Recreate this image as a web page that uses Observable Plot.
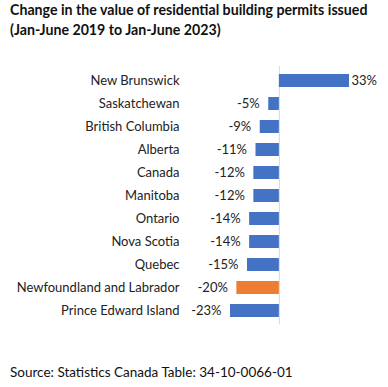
<!DOCTYPE html>
<html>
<head>
<meta charset="utf-8">
<script src="https://cdn.jsdelivr.net/npm/d3@7"></script>
<script src="https://cdn.jsdelivr.net/npm/@observablehq/plot@0.6"></script>
<style>
  html, body { margin: 0; padding: 0; background: #fff; }
  body { width: 388px; height: 387px; position: relative; overflow: hidden; font-family: Lato, sans-serif; }
  #title { position: absolute; left: 10px; top: 0px; font-weight: bold; font-size: 14.2px; line-height: 20px; color: #111; white-space: nowrap; }
  #chart { position: absolute; left: 0; top: 45px; }
  #source { position: absolute; left: 10px; top: 363px; font-size: 13.5px; line-height: 18px; color: #111; }
</style>
</head>
<body>
<div id="title">Change in the value of residential building permits issued<br>(Jan-June 2019 to Jan-June 2023)</div>
<div id="chart"></div>
<div id="source">Source: Statistics Canada Table: 34-10-0066-01</div>
<script>
const regions = ["New Brunswick", "Saskatchewan", "British Columbia", "Alberta", "Canada", "Manitoba", "Ontario", "Nova Scotia", "Quebec", "Newfoundland and Labrador", "Prince Edward Island"];
const changes = [33, -5, -9, -11, -12, -12, -14, -14, -15, -20, -23];
const highlight = "Newfoundland and Labrador";

const data = regions.map((r, i) => ({region: r, value: changes[i]}));

const chart = Plot.plot({
  width: 388,
  height: 285,
  marginLeft: 230,
  marginRight: 39,
  marginTop: 21,
  marginBottom: 5.5,
  style: {fontFamily: "Lato, sans-serif", fontSize: "13px", color: "#222", background: "#fff"},
  x: {domain: [-23, 33], axis: null},
  y: {domain: regions, paddingInner: 0.45, paddingOuter: 0.225, label: null},
  marks: [
    Plot.ruleX([0], {stroke: "#d9d9d9", strokeWidth: 1}),
    Plot.barX(data, {
      x: "value",
      y: "region",
      fill: d => d.region === highlight ? "#ED7D31" : "#4472C4"
    }),
    Plot.text(data.filter(d => d.value >= 0), {
      x: "value", y: "region", text: d => `${d.value}%`,
      textAnchor: "start", dx: 2, fill: "#222"
    }),
    Plot.text(data.filter(d => d.value < 0), {
      x: "value", y: "region", text: d => `${d.value}%`,
      textAnchor: "end", dx: -9, fill: "#222"
    }),
    Plot.axisY({tickSize: 0, tickPadding: 51, label: null, fill: "#222"})
  ]
});
document.getElementById("chart").appendChild(chart);
</script>
</body>
</html>
